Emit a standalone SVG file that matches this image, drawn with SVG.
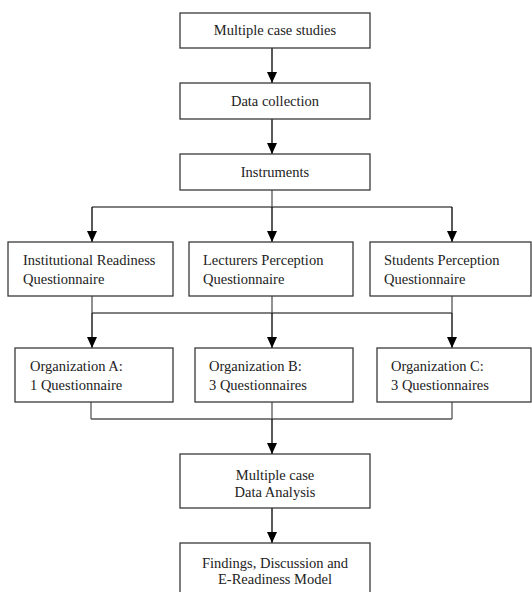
<svg xmlns="http://www.w3.org/2000/svg" width="532" height="592" viewBox="0 0 532 592">
<style>
.box{fill:#fff;stroke:#3a3a3a;stroke-width:1.3}
.t{font-family:"Liberation Serif","DejaVu Serif","Times New Roman",serif;font-size:14.5px;fill:#222}
.c{text-anchor:middle}
.ln{fill:none;stroke:#555;stroke-width:1.3}
.ar{fill:none;stroke:#000;stroke-width:1.3;marker-end:url(#ah)}
</style>
<defs>
<marker id="ah" markerWidth="11" markerHeight="10" refX="11" refY="5" orient="auto" markerUnits="userSpaceOnUse" viewBox="0 0 11 10">
<path d="M0,0 L11,5 L0,10 Z" fill="#000"/>
</marker>
</defs>
<rect width="532" height="592" fill="#fff"/>
<g id="connectors">
<line class="ar" x1="272" y1="48" x2="272" y2="83"/>
<line class="ar" x1="272" y1="119" x2="272" y2="154"/>
<line class="ln" x1="272" y1="190" x2="272" y2="207"/>
<line class="ln" x1="92" y1="207" x2="452" y2="207"/>
<line class="ar" x1="92" y1="207" x2="92" y2="242"/>
<line class="ar" x1="272" y1="207" x2="272" y2="242"/>
<line class="ar" x1="452" y1="207" x2="452" y2="242"/>
<line class="ln" x1="92" y1="296" x2="92" y2="313"/>
<line class="ln" x1="272" y1="296" x2="272" y2="313"/>
<line class="ln" x1="452" y1="296" x2="452" y2="313"/>
<line class="ln" x1="92" y1="313" x2="452" y2="313"/>
<line class="ar" x1="92" y1="313" x2="92" y2="348"/>
<line class="ar" x1="272" y1="313" x2="272" y2="348"/>
<line class="ar" x1="452" y1="313" x2="452" y2="348"/>
<line class="ln" x1="91" y1="402" x2="91" y2="419"/>
<line class="ln" x1="272" y1="402" x2="272" y2="419"/>
<line class="ln" x1="452" y1="402" x2="452" y2="419"/>
<line class="ln" x1="91" y1="419" x2="452" y2="419"/>
<line class="ar" x1="272" y1="419" x2="272" y2="454"/>
<line class="ar" x1="272" y1="508" x2="272" y2="543"/>
</g>
<g id="n1"><rect class="box" x="180" y="13" width="190" height="35"/><text class="t c" x="275" y="35">Multiple case studies</text></g>
<g id="n2"><rect class="box" x="180" y="83" width="190" height="36"/><text class="t c" x="275" y="106">Data collection</text></g>
<g id="n3"><rect class="box" x="180" y="154" width="190" height="36"/><text class="t c" x="275" y="177">Instruments</text></g>
<g id="q1"><rect class="box" x="8" y="242" width="165" height="54"/><text class="t" x="23" y="265">Institutional Readiness</text><text class="t" x="23" y="284">Questionnaire</text></g>
<g id="q2"><rect class="box" x="189" y="242" width="164" height="54"/><text class="t" x="203" y="265">Lecturers Perception</text><text class="t" x="203" y="284">Questionnaire</text></g>
<g id="q3"><rect class="box" x="370" y="242" width="161" height="54"/><text class="t" x="384" y="265">Students Perception</text><text class="t" x="384" y="284">Questionnaire</text></g>
<g id="oA"><rect class="box" x="15" y="348" width="158" height="54"/><text class="t" x="30" y="371">Organization A:</text><text class="t" x="30" y="390">1 Questionnaire</text></g>
<g id="oB"><rect class="box" x="195" y="348" width="158" height="54"/><text class="t" x="209" y="371">Organization B:</text><text class="t" x="209" y="390">3 Questionnaires</text></g>
<g id="oC"><rect class="box" x="377" y="348" width="154" height="54"/><text class="t" x="391" y="371">Organization C:</text><text class="t" x="391" y="390">3 Questionnaires</text></g>
<g id="n4"><rect class="box" x="180" y="454" width="190" height="54"/><text class="t c" x="275" y="480">Multiple case</text><text class="t c" x="275" y="497">Data Analysis</text></g>
<g id="n5"><rect class="box" x="180" y="543" width="190" height="60"/><text class="t c" x="275" y="568">Findings, Discussion and</text><text class="t c" x="275" y="584">E-Readiness Model</text></g>
</svg>
